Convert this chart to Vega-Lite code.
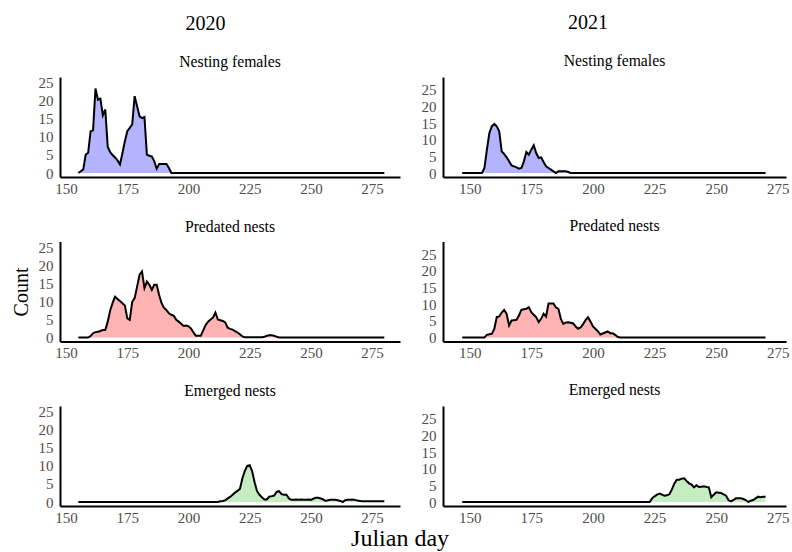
{
  "$schema": "https://vega.github.io/schema/vega-lite/v6.json",
  "padding": {"left": 11, "top": 13, "right": 0, "bottom": 0},
  "background": "white",
  "title": {"text": "Julian day", "orient": "bottom", "anchor": "middle", "frame": "bounds", "fontSize": 24, "fontWeight": "normal", "font": "Liberation Serif", "color": "black", "offset": 2},
  "config": {
    "font": "Liberation Serif",
    "view": {"stroke": null},
    "axis": {"domainColor": "black", "domainWidth": 2, "ticks": false, "grid": false, "labelFont": "Liberation Serif", "labelFontSize": 15, "labelColor": "#4d4d4d", "titleFont": "Liberation Serif", "titleFontWeight": "normal", "titleColor": "black"},
    "axisX": {"labelPadding": 4},
    "axisY": {"labelPadding": 7},
    "title": {"font": "Liberation Serif", "fontSize": 15.7, "fontWeight": "normal", "color": "black", "anchor": "middle", "frame": "group", "offset": 7}
  },
  "datasets": {
    "nf20": [{"d":155,"n":0},{"d":156,"n":0.5},{"d":157,"n":1},{"d":158,"n":5.1},{"d":159,"n":5.6},{"d":160,"n":11.6},{"d":161,"n":11.8},{"d":162,"n":23.4},{"d":163,"n":20.3},{"d":164,"n":20.6},{"d":165,"n":16},{"d":166,"n":17.6},{"d":167,"n":7.3},{"d":168,"n":5.8},{"d":169,"n":5},{"d":170,"n":4.3},{"d":171,"n":3.5},{"d":172,"n":2.4},{"d":173,"n":5.5},{"d":174,"n":8.8},{"d":175,"n":11.6},{"d":176,"n":12.5},{"d":177,"n":13.5},{"d":178,"n":21.3},{"d":179,"n":18.5},{"d":180,"n":15.7},{"d":181,"n":15.2},{"d":182,"n":15.5},{"d":183,"n":5.1},{"d":184,"n":4.8},{"d":185,"n":4.6},{"d":186,"n":3.3},{"d":187,"n":1.2},{"d":188,"n":2.5},{"d":189,"n":2.5},{"d":190,"n":2.5},{"d":191,"n":2.5},{"d":192,"n":1.4},{"d":193,"n":0},{"d":200,"n":0},{"d":210,"n":0},{"d":220,"n":0},{"d":230,"n":0},{"d":240,"n":0},{"d":250,"n":0},{"d":260,"n":0},{"d":270,"n":0},{"d":280,"n":0}],
    "nf21": [{"d":147,"n":0},{"d":150,"n":0},{"d":155,"n":0},{"d":156,"n":1.5},{"d":157,"n":7},{"d":158,"n":12},{"d":159,"n":14},{"d":160,"n":14.7},{"d":161,"n":14},{"d":162,"n":12.5},{"d":163,"n":6.5},{"d":164,"n":5.7},{"d":165,"n":4.7},{"d":166,"n":3.5},{"d":167,"n":2.3},{"d":168,"n":2},{"d":169,"n":1.7},{"d":170,"n":1.3},{"d":171,"n":1.5},{"d":172,"n":3.5},{"d":173,"n":6.3},{"d":174,"n":5.5},{"d":175,"n":7},{"d":176,"n":8.3},{"d":177,"n":6},{"d":178,"n":4.5},{"d":179,"n":4.7},{"d":180,"n":3.3},{"d":181,"n":2},{"d":182,"n":1.5},{"d":183,"n":1},{"d":184,"n":0.5},{"d":185,"n":0},{"d":186,"n":0.5},{"d":187,"n":0.5},{"d":188,"n":0.5},{"d":189,"n":0.5},{"d":190,"n":0.3},{"d":191,"n":0},{"d":200,"n":0},{"d":210,"n":0},{"d":220,"n":0},{"d":230,"n":0},{"d":240,"n":0},{"d":250,"n":0},{"d":260,"n":0},{"d":270,"n":0}],
    "pn20": [{"d":155,"n":0},{"d":159,"n":0},{"d":160,"n":0.4},{"d":161,"n":1.2},{"d":162,"n":1.5},{"d":163,"n":1.6},{"d":164,"n":1.8},{"d":165,"n":2.1},{"d":166,"n":2.1},{"d":167,"n":4.4},{"d":168,"n":7.5},{"d":169,"n":9.6},{"d":170,"n":11.3},{"d":171,"n":10.7},{"d":172,"n":10.1},{"d":173,"n":9.5},{"d":174,"n":8.9},{"d":175,"n":5.3},{"d":176,"n":4.9},{"d":177,"n":9.9},{"d":178,"n":10.9},{"d":179,"n":14.1},{"d":180,"n":17.4},{"d":181,"n":18.3},{"d":182,"n":13.7},{"d":183,"n":15.5},{"d":184,"n":14.6},{"d":185,"n":13.2},{"d":186,"n":14.6},{"d":187,"n":14.6},{"d":188,"n":11.8},{"d":189,"n":9.5},{"d":190,"n":8.2},{"d":191,"n":7.6},{"d":192,"n":6.7},{"d":193,"n":6.3},{"d":194,"n":6},{"d":195,"n":4.9},{"d":196,"n":4.4},{"d":197,"n":3.8},{"d":198,"n":3.2},{"d":199,"n":3.3},{"d":200,"n":3.1},{"d":201,"n":2.5},{"d":202,"n":1.4},{"d":203,"n":0.5},{"d":204,"n":0.5},{"d":205,"n":0.5},{"d":206,"n":2},{"d":207,"n":3.5},{"d":208,"n":4.4},{"d":209,"n":5},{"d":210,"n":5.5},{"d":211,"n":6.9},{"d":212,"n":5},{"d":213,"n":4.8},{"d":214,"n":4.6},{"d":215,"n":4.2},{"d":216,"n":2.7},{"d":217,"n":2.4},{"d":218,"n":2.2},{"d":219,"n":1.8},{"d":220,"n":1.4},{"d":221,"n":0.9},{"d":222,"n":0.3},{"d":223,"n":0.1},{"d":230,"n":0.1},{"d":231,"n":0.2},{"d":232,"n":0.5},{"d":233,"n":0.6},{"d":234,"n":0.6},{"d":235,"n":0.5},{"d":236,"n":0.2},{"d":237,"n":0},{"d":240,"n":0},{"d":250,"n":0},{"d":260,"n":0},{"d":270,"n":0},{"d":280,"n":0}],
    "pn21": [{"d":147,"n":0},{"d":150,"n":0},{"d":156,"n":0},{"d":157,"n":0.8},{"d":158,"n":1},{"d":159,"n":1.1},{"d":160,"n":2.6},{"d":161,"n":6.1},{"d":162,"n":6.3},{"d":163,"n":7.5},{"d":164,"n":8.3},{"d":165,"n":7.1},{"d":166,"n":3.6},{"d":167,"n":5.1},{"d":168,"n":5.2},{"d":169,"n":5.3},{"d":170,"n":6.6},{"d":171,"n":8.3},{"d":172,"n":8.5},{"d":173,"n":8.6},{"d":174,"n":9.1},{"d":175,"n":7.6},{"d":176,"n":6.8},{"d":177,"n":6.1},{"d":178,"n":4.6},{"d":179,"n":5.6},{"d":180,"n":7.1},{"d":181,"n":6.3},{"d":182,"n":10.2},{"d":183,"n":10.2},{"d":184,"n":10.2},{"d":185,"n":9},{"d":186,"n":8.6},{"d":187,"n":5.6},{"d":188,"n":4.1},{"d":189,"n":4.5},{"d":190,"n":4.6},{"d":191,"n":4.4},{"d":192,"n":4.2},{"d":193,"n":3.3},{"d":194,"n":2.6},{"d":195,"n":3},{"d":196,"n":4},{"d":197,"n":5.2},{"d":198,"n":6.1},{"d":199,"n":4.8},{"d":200,"n":3.3},{"d":201,"n":2.6},{"d":202,"n":1.9},{"d":203,"n":0.9},{"d":204,"n":1.2},{"d":205,"n":1.5},{"d":206,"n":1.8},{"d":207,"n":1.3},{"d":208,"n":1.3},{"d":209,"n":0.8},{"d":210,"n":0.2},{"d":211,"n":0},{"d":220,"n":0},{"d":230,"n":0},{"d":240,"n":0},{"d":250,"n":0},{"d":260,"n":0},{"d":270,"n":0}],
    "en20": [{"d":155,"n":0},{"d":160,"n":0},{"d":170,"n":0},{"d":180,"n":0},{"d":190,"n":0},{"d":200,"n":0},{"d":210,"n":0},{"d":212,"n":0},{"d":213,"n":0.2},{"d":214,"n":0.3},{"d":215,"n":0.5},{"d":216,"n":1},{"d":217,"n":1.4},{"d":218,"n":2},{"d":219,"n":2.6},{"d":220,"n":3.1},{"d":221,"n":3.6},{"d":222,"n":6.5},{"d":223,"n":8.6},{"d":224,"n":10},{"d":225,"n":10.2},{"d":226,"n":8.5},{"d":227,"n":5.5},{"d":228,"n":3},{"d":229,"n":2},{"d":230,"n":1.3},{"d":231,"n":0.7},{"d":232,"n":0.7},{"d":233,"n":1.5},{"d":234,"n":1.6},{"d":235,"n":1.8},{"d":236,"n":2.8},{"d":237,"n":3},{"d":238,"n":2.2},{"d":239,"n":2},{"d":240,"n":2},{"d":241,"n":1},{"d":242,"n":0.6},{"d":243,"n":0.6},{"d":244,"n":0.7},{"d":245,"n":0.6},{"d":246,"n":0.7},{"d":247,"n":0.6},{"d":248,"n":0.6},{"d":249,"n":0.7},{"d":250,"n":0.6},{"d":251,"n":0.9},{"d":252,"n":1.2},{"d":253,"n":1.2},{"d":254,"n":1},{"d":255,"n":0.7},{"d":256,"n":0.3},{"d":257,"n":0.5},{"d":258,"n":0.6},{"d":259,"n":0.6},{"d":260,"n":0.6},{"d":261,"n":0.5},{"d":262,"n":0.3},{"d":263,"n":0},{"d":264,"n":0.5},{"d":265,"n":0.6},{"d":266,"n":0.6},{"d":267,"n":0.7},{"d":268,"n":0.6},{"d":269,"n":0.4},{"d":270,"n":0.3},{"d":271,"n":0.2},{"d":275,"n":0.2},{"d":280,"n":0.2}],
    "en21": [{"d":147,"n":0},{"d":150,"n":0},{"d":160,"n":0},{"d":170,"n":0},{"d":180,"n":0},{"d":190,"n":0},{"d":200,"n":0},{"d":210,"n":0},{"d":220,"n":0},{"d":223,"n":0},{"d":224,"n":1.1},{"d":225,"n":1.7},{"d":226,"n":2.2},{"d":227,"n":2.5},{"d":228,"n":2.2},{"d":229,"n":1.9},{"d":230,"n":2},{"d":231,"n":2.3},{"d":232,"n":3.7},{"d":233,"n":5.5},{"d":234,"n":6.7},{"d":235,"n":6.7},{"d":236,"n":7},{"d":237,"n":7.1},{"d":238,"n":6.3},{"d":239,"n":5.6},{"d":240,"n":5.2},{"d":241,"n":4.4},{"d":242,"n":5},{"d":243,"n":4.5},{"d":244,"n":4.6},{"d":245,"n":4.7},{"d":246,"n":4.5},{"d":247,"n":4.4},{"d":248,"n":1.4},{"d":249,"n":2.2},{"d":250,"n":2.9},{"d":251,"n":2.8},{"d":252,"n":2.7},{"d":253,"n":2.3},{"d":254,"n":1.9},{"d":255,"n":0.5},{"d":256,"n":0.2},{"d":257,"n":0.6},{"d":258,"n":1.1},{"d":259,"n":1.1},{"d":260,"n":1.1},{"d":261,"n":0.9},{"d":262,"n":0.6},{"d":263,"n":0},{"d":264,"n":0.4},{"d":265,"n":0.6},{"d":266,"n":1.1},{"d":267,"n":1.6},{"d":268,"n":1.4},{"d":269,"n":1.6},{"d":270,"n":1.6}]
  },
  "spacing": 21,
  "hconcat": [
    {
      "title": {"text": "2020", "fontSize": 20, "frame": "bounds", "anchor": "middle", "offset": 20},
      "spacing": 64.5,
      "bounds": "flush",
      "vconcat": [
        {"title": {"text": "Nesting females", "offset": 5}, "width": 340, "height": 100, "data": {"name": "nf20"},
         "encoding": {"x": {"field": "d", "type": "quantitative", "scale": {"domain": [147.5, 286.4], "nice": false, "zero": false}, "axis": {"values": [150, 175, 200, 225, 250, 275], "title": null}},
                      "y": {"field": "n", "type": "quantitative", "scale": {"domain": [-1.1, 26.6], "nice": false}, "axis": {"values": [0, 5, 10, 15, 20, 25], "title": null}}},
         "layer": [{"mark": {"type": "area", "color": "#b3b3ff"}, "encoding": {"y2": {"datum": 0}}}, {"mark": {"type": "line", "color": "black", "strokeWidth": 2}}]},
        {"title": {"text": "Predated nests", "offset": 5}, "width": 340, "height": 100, "data": {"name": "pn20"},
         "encoding": {"x": {"field": "d", "type": "quantitative", "scale": {"domain": [147.5, 286.4], "nice": false, "zero": false}, "axis": {"values": [150, 175, 200, 225, 250, 275], "title": null}},
                      "y": {"field": "n", "type": "quantitative", "scale": {"domain": [-1.1, 26.6], "nice": false}, "axis": {"values": [0, 5, 10, 15, 20, 25], "title": "Count", "titleFontSize": 20, "titlePadding": 7}}},
         "layer": [{"mark": {"type": "area", "color": "#ffb3b3"}, "encoding": {"y2": {"datum": 0}}}, {"mark": {"type": "line", "color": "black", "strokeWidth": 2}}]},
        {"title": {"text": "Emerged nests", "offset": 5}, "width": 340, "height": 100, "data": {"name": "en20"},
         "encoding": {"x": {"field": "d", "type": "quantitative", "scale": {"domain": [147.5, 286.4], "nice": false, "zero": false}, "axis": {"values": [150, 175, 200, 225, 250, 275], "title": null}},
                      "y": {"field": "n", "type": "quantitative", "scale": {"domain": [-1.1, 26.6], "nice": false}, "axis": {"values": [0, 5, 10, 15, 20, 25], "title": null}}},
         "layer": [{"mark": {"type": "area", "color": "#c5eec0"}, "encoding": {"y2": {"datum": 0}}}, {"mark": {"type": "line", "color": "black", "strokeWidth": 2}}]}
      ]
    },
    {
      "title": {"text": "2021", "fontSize": 20, "frame": "bounds", "anchor": "middle", "offset": 20, "dx": -17},
      "spacing": 64.5,
      "bounds": "flush",
      "vconcat": [
        {"title": "Nesting females", "width": 343, "height": 100, "data": {"name": "nf21"},
         "encoding": {"x": {"field": "d", "type": "quantitative", "scale": {"domain": [139.2, 278.3], "nice": false, "zero": false}, "axis": {"values": [150, 175, 200, 225, 250, 275], "title": null}},
                      "y": {"field": "n", "type": "quantitative", "scale": {"domain": [-1.2, 28.8], "nice": false}, "axis": {"values": [0, 5, 10, 15, 20, 25], "title": null}}},
         "layer": [{"mark": {"type": "area", "color": "#b3b3ff"}, "encoding": {"y2": {"datum": 0}}}, {"mark": {"type": "line", "color": "black", "strokeWidth": 2}}]},
        {"title": "Predated nests", "width": 343, "height": 100, "data": {"name": "pn21"},
         "encoding": {"x": {"field": "d", "type": "quantitative", "scale": {"domain": [139.2, 278.3], "nice": false, "zero": false}, "axis": {"values": [150, 175, 200, 225, 250, 275], "title": null}},
                      "y": {"field": "n", "type": "quantitative", "scale": {"domain": [-1.2, 28.8], "nice": false}, "axis": {"values": [0, 5, 10, 15, 20, 25], "title": null}}},
         "layer": [{"mark": {"type": "area", "color": "#ffb3b3"}, "encoding": {"y2": {"datum": 0}}}, {"mark": {"type": "line", "color": "black", "strokeWidth": 2}}]},
        {"title": "Emerged nests", "width": 343, "height": 100, "data": {"name": "en21"},
         "encoding": {"x": {"field": "d", "type": "quantitative", "scale": {"domain": [139.2, 278.3], "nice": false, "zero": false}, "axis": {"values": [150, 175, 200, 225, 250, 275], "title": null}},
                      "y": {"field": "n", "type": "quantitative", "scale": {"domain": [-1.2, 28.8], "nice": false}, "axis": {"values": [0, 5, 10, 15, 20, 25], "title": null}}},
         "layer": [{"mark": {"type": "area", "color": "#c5eec0"}, "encoding": {"y2": {"datum": 0}}}, {"mark": {"type": "line", "color": "black", "strokeWidth": 2}}]}
      ]
    }
  ]
}
